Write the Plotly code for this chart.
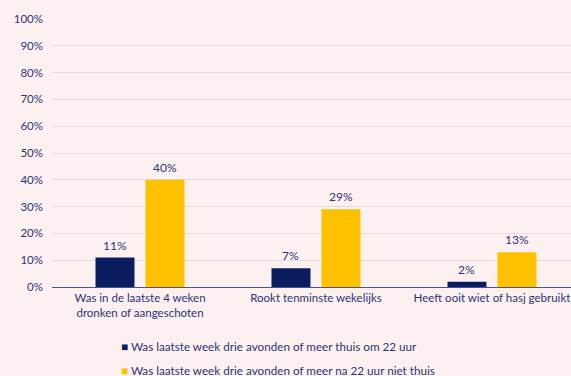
import plotly.graph_objects as go

categories = [
    "Was in de laatste 4 weken<br>dronken of aangeschoten",
    "Rookt tenminste wekelijks",
    "Heeft ooit wiet of hasj gebruikt",
]
series_names = [
    "Was laatste week drie avonden of meer thuis om 22 uur",
    "Was laatste week drie avonden of meer na 22 uur niet thuis",
]
thuis = [11, 7, 2]
niet_thuis = [40, 29, 13]
y_ticks = list(range(0, 101, 10))

navy = "#0B1D5E"
yellow = "#FFC000"
text_col = "#2B3577"
bg = "#FCF1F0"
font_family = "Lato"

W, H = 571, 376
ML, MR, MT, MB = 52, 0, 19, 89
plot_w, plot_h = W - ML - MR, H - MT - MB

series = [(series_names[0], thuis, navy, -25), (series_names[1], niet_thuis, yellow, 25)]

fig = go.Figure()
annotations = []
for name, vals, col, shift in series:
    fig.add_trace(go.Bar(
        x=categories, y=vals, name=name, marker=dict(color=col, line=dict(width=0)),
        showlegend=False,
    ))
    # value labels above each bar
    for cat, v in zip(categories, vals):
        annotations.append(dict(
            x=cat, y=v, xref="x", yref="y", text=f"{v}%", showarrow=False,
            xanchor="center", yanchor="bottom", xshift=shift, yshift=3,
            font=dict(size=12, color=text_col, family=font_family),
        ))

# legend rows below the axis: coloured square glyph followed by the series name
for i, (name, _, col, _) in enumerate(series):
    annotations.append(dict(
        x=(119 - ML) / plot_w, y=-(59 + i * 24) / plot_h, xref="paper", yref="paper",
        showarrow=False, text=f"<span style='color:{col}'>■</span> {name}",
        xanchor="left", yanchor="middle",
        font=dict(size=11.7, color=text_col, family=font_family),
    ))

fig.update_layout(
    width=W, height=H,
    margin=dict(l=ML, r=MR, t=MT, b=MB, autoexpand=False),
    paper_bgcolor=bg, plot_bgcolor=bg,
    barmode="group", bargap=0.432, bargroupgap=0.22,
    font=dict(family=font_family, color=text_col, size=11),
    showlegend=False,
    annotations=annotations,
)
fig.update_xaxes(range=[-0.5, 2.449], automargin=False, showgrid=False, showline=True,
                 linecolor="#4A5590", linewidth=1.3, ticks="",
                 tickfont=dict(size=11.5, color=text_col), zeroline=False)
fig.update_yaxes(range=[0, 100], automargin=False, tickvals=y_ticks,
                 ticktext=[f"{v}%" for v in y_ticks],
                 showgrid=True, gridcolor="#E5DADF", gridwidth=1, zeroline=False,
                 ticks="", ticklabelstandoff=8, tickfont=dict(size=11.5, color=text_col))

fig.write_html("out.html")
